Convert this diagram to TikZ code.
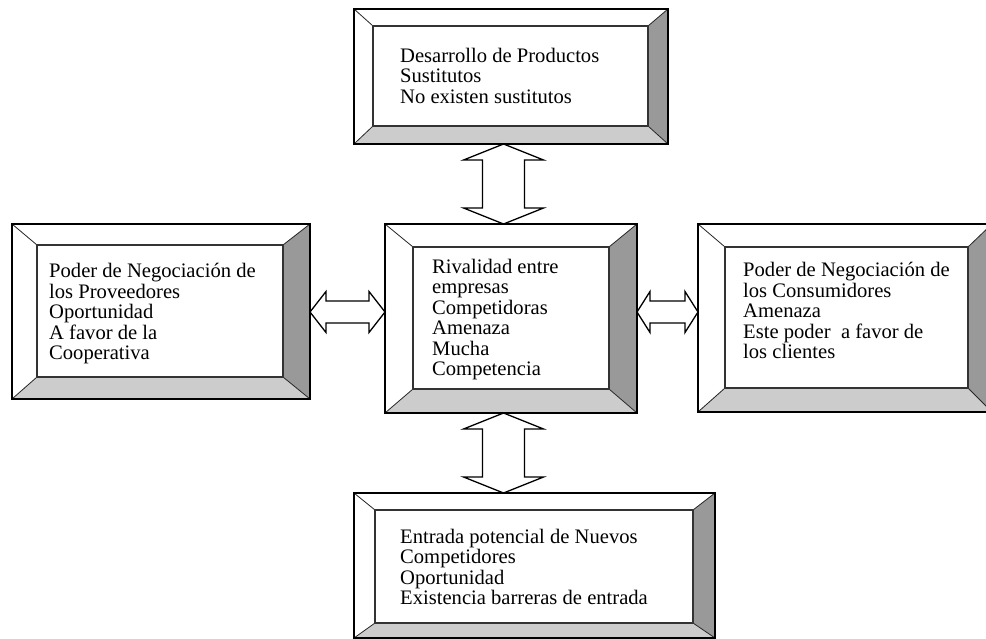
\documentclass[tikz,border=0pt]{standalone}
\usepackage{fontspec}
\setmainfont{Liberation Serif}
\usetikzlibrary{calc}
\definecolor{bevR}{gray}{0.6}
\definecolor{bevB}{gray}{0.8}
\tikzset{
  boxsty/.style={draw=none, inner sep=0pt, outer sep=0pt},
  outerline/.style={draw=black, line width=1.6pt},
  innerline/.style={draw=black!80, line width=1.2pt},
  diagline/.style={draw=black!85, line width=0.8pt},
  arrowsty/.style={draw=black, fill=white, line width=1.3pt, line join=miter},
  txt/.style={anchor=north west, inner sep=0pt, align=left, font=\fontsize{20.6}{20.5}\selectfont}
}
% #1 node name, #2 left, #3 top, #4 right, #5 bottom bevel widths
\newcommand\bevelbox[5]{%
  \fill[white] (#1.north west) -- (#1.north east) -- ([shift={(-#4,#3)}]#1.north east) -- ([shift={(#2,#3)}]#1.north west) -- cycle;
  \fill[white] (#1.north west) -- ([shift={(#2,#3)}]#1.north west) -- ([shift={(#2,-#5)}]#1.south west) -- (#1.south west) -- cycle;
  \fill[bevR] (#1.north east) -- (#1.south east) -- ([shift={(-#4,-#5)}]#1.south east) -- ([shift={(-#4,#3)}]#1.north east) -- cycle;
  \fill[bevB] (#1.south west) -- (#1.south east) -- ([shift={(-#4,-#5)}]#1.south east) -- ([shift={(#2,-#5)}]#1.south west) -- cycle;
  \fill[white] ([shift={(#2,#3)}]#1.north west) rectangle ([shift={(-#4,-#5)}]#1.south east);
  \draw[diagline] (#1.north west) -- ([shift={(#2,#3)}]#1.north west);
  \draw[diagline] (#1.north east) -- ([shift={(-#4,#3)}]#1.north east);
  \draw[diagline] (#1.south west) -- ([shift={(#2,-#5)}]#1.south west);
  \draw[diagline] (#1.south east) -- ([shift={(-#4,-#5)}]#1.south east);
  \draw[innerline] ([shift={(#2,#3)}]#1.north west) rectangle ([shift={(-#4,-#5)}]#1.south east);
  \draw[outerline] (#1.north west) rectangle (#1.south east);
}
% vertical double arrow from coordinate #1 (top tip) to #2 (bottom tip)
\newcommand\varrow[2]{%
  \draw[arrowsty] (#1) -- ([shift={(40,16)}]#1) -- ([shift={(21,16)}]#1) -- ([shift={(21,-16)}]#2) -- ([shift={(40,-16)}]#2) -- (#2)
    -- ([shift={(-40,-16)}]#2) -- ([shift={(-21,-16)}]#2) -- ([shift={(-21,16)}]#1) -- ([shift={(-40,16)}]#1) -- cycle;
}
% horizontal double arrow from coordinate #1 (left tip) to #2 (right tip), #3 head length
\newcommand\harrow[3]{%
  \draw[arrowsty] (#1) -- ([shift={(#3,-20.5)}]#1) -- ([shift={(#3,-11)}]#1) -- ([shift={(-#3,-11)}]#2) -- ([shift={(-#3,-20.5)}]#2) -- (#2)
    -- ([shift={(-#3,20.5)}]#2) -- ([shift={(-#3,11)}]#2) -- ([shift={(#3,11)}]#1) -- ([shift={(#3,20.5)}]#1) -- cycle;
}
\begin{document}
\begin{tikzpicture}[x=1pt,y=-1pt]
\useasboundingbox (0,0) rectangle (986,639);
\clip (0,0) rectangle (986,639);

% boxes
\node[boxsty, minimum width=314pt, minimum height=135pt] (top) at (511,76.5) {};
\node[boxsty, minimum width=252pt, minimum height=189pt] (mid) at (511,318.5) {};
\node[boxsty, minimum width=298pt, minimum height=175pt] (prov) at (161,311.5) {};
\node[boxsty, minimum width=294pt, minimum height=188pt] (cons) at (845,318) {};
\node[boxsty, minimum width=361pt, minimum height=145pt] (entr) at (534.5,565.5) {};

\bevelbox{top}{19}{17}{20}{18}
\bevelbox{mid}{28}{23}{28}{24}
\bevelbox{prov}{25}{21}{27}{22}
\bevelbox{cons}{27}{23}{24}{24}
\bevelbox{entr}{21}{17}{22}{15}

% texts
\node[txt] (ttop) at (400,48) {Desarrollo de Productos\\Sustitutos\\No existen sustitutos};
\node[txt] (tprov) at (49,263) {Poder de Negociación de\\los Proveedores\\Oportunidad\\A favor de la\\Cooperativa};
\node[txt] (tmid) at (432,259) {Rivalidad entre\\empresas\\Competidoras\\Amenaza\\Mucha\\Competencia};
\node[txt] (tcons) at (743,262) {Poder de Negociación de\\los Consumidores\\Amenaza\\Este poder~ a favor de\\los clientes};
\node[txt] (tentr) at (400,529) {Entrada potencial de Nuevos\\Competidores\\Oportunidad\\Existencia barreras de entrada};

% arrow anchors
\coordinate (vx) at (503.5,0);
\coordinate (hy) at (0,312);
\coordinate (a1) at (top.south -| vx);
\coordinate (b1) at (mid.north -| vx);
\coordinate (a2) at (mid.south -| vx);
\coordinate (b2) at (entr.north -| vx);
\coordinate (a3) at (prov.east |- hy);
\coordinate (b3) at (mid.west |- hy);
\coordinate (a4) at (mid.east |- hy);
\coordinate (b4) at (cons.west |- hy);

\varrow{a1}{b1}
\varrow{a2}{b2}
\harrow{a3}{b3}{16}
\harrow{a4}{b4}{13}
\end{tikzpicture}
\end{document}
